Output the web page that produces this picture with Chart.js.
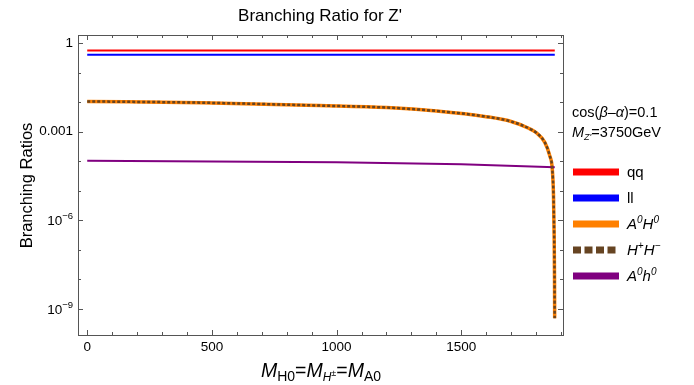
<!DOCTYPE html>
<html>
<head>
<meta charset="utf-8">
<script src="https://cdn.jsdelivr.net/npm/chart.js@4.4.1/dist/chart.umd.min.js"></script>
<style>
  body { margin: 0; background: #fff; }
  canvas { display: block; }
</style>
</head>
<body>
<canvas id="brChart" width="694" height="385"></canvas>
<script>
// Data (x = common heavy Higgs mass in GeV)
const massFlat = [0, 500, 1000, 1500, 1875];
const brQQ = [0.56, 0.56, 0.56, 0.56, 0.56];
const brLL = [0.40, 0.40, 0.40, 0.40, 0.40];
const brA0h0 = [1.02e-4, 9.8e-5, 9.1e-5, 7.9e-5, 6.2e-5];

const massCurve = [0, 460, 930, 1200, 1400, 1600, 1700, 1770, 1800, 1835, 1855, 1865, 1870, 1872.5, 1874, 1874.6];
const brA0H0 = [0.0105, 0.0095, 0.0076, 0.0065, 0.0050, 0.0032, 0.0022, 0.0013, 9.3e-4, 4.3e-4, 1.5e-4, 5.4e-5, 6.3e-6, 3.2e-7, 1e-8, 4.8e-10];
const brHpHm = [0.0105, 0.0095, 0.0076, 0.0065, 0.0050, 0.0032, 0.0022, 0.0013, 9.3e-4, 4.3e-4, 1.5e-4, 5.4e-5, 6.3e-6, 3.2e-7, 1e-8, 4.8e-10];

const xTicks = [0, 500, 1000, 1500];
const yDecades = [1e-10, 1e-9, 1e-8, 1e-7, 1e-6, 1e-5, 1e-4, 1e-3, 1e-2, 1e-1, 1];
const yPlainLabels = { '1': '1', '0.001': '0.001' };
const yPowerLabels = [[1e-6, '−6'], [1e-9, '−9']];

const toPoints = (xs, ys) => xs.map((x, i) => ({ x: x, y: ys[i] }));

const FONT = '"Liberation Sans", Arial, sans-serif';

// draws text made of runs with different fonts / offsets
function drawRuns(ctx, x, y, runs, align) {
    let total = 0;
    runs.forEach(r => { ctx.font = r.font; total += ctx.measureText(r.t).width; });
    let cx = x;
    if (align === 'center') cx = x - total / 2;
    if (align === 'right') cx = x - total;
    ctx.textAlign = 'left';
    ctx.textBaseline = 'alphabetic';
    runs.forEach(r => {
        ctx.font = r.font;
        ctx.fillText(r.t, cx, y + (r.dy || 0));
        cx += ctx.measureText(r.t).width;
    });
}

const framePlugin = {
    id: 'frame',
    afterDraw(chart) {
        const ctx = chart.ctx;
        const a = chart.chartArea;
        const xs = chart.scales.x, ys = chart.scales.y;
        ctx.save();
        ctx.strokeStyle = '#555';
        ctx.lineWidth = 1;
        ctx.strokeRect(a.left + 0.5, a.top + 0.5, a.right - a.left, a.bottom - a.top);

        // x ticks every 100, inward on bottom and top
        ctx.beginPath();
        for (let v = 0; v <= 1900; v += 100) {
            const px = Math.round(xs.getPixelForValue(v)) + 0.5;
            const len = v % 500 === 0 ? 5 : 3;
            ctx.moveTo(px, a.bottom); ctx.lineTo(px, a.bottom - len);
            ctx.moveTo(px, a.top); ctx.lineTo(px, a.top + len);
        }
        // y ticks every decade, inward on left and right
        yDecades.forEach((v, i) => {
            const py = Math.round(ys.getPixelForValue(v)) + 0.5;
            if (py < a.top || py > a.bottom) return;
            const len = (i - 1) % 3 === 0 ? 5 : 3;
            ctx.moveTo(a.left, py); ctx.lineTo(a.left + len, py);
            ctx.moveTo(a.right, py); ctx.lineTo(a.right - len, py);
        });
        ctx.stroke();

        ctx.fillStyle = '#000';
        // power-of-ten tick labels
        yPowerLabels.forEach(([v, exp]) => {
            const py = ys.getPixelForValue(v);
            drawRuns(ctx, 73, py + 5, [
                { t: '10', font: '13.5px ' + FONT },
                { t: exp, font: '9.5px ' + FONT, dy: -6 }
            ], 'right');
        });

        // title
        drawRuns(ctx, 320, 21, [{ t: "Branching Ratio for Z'", font: '17px ' + FONT }], 'center');

        // y axis title
        ctx.save();
        ctx.translate(32, 185.5);
        ctx.rotate(-Math.PI / 2);
        drawRuns(ctx, 0, 0, [{ t: 'Branching Ratios', font: '16.5px ' + FONT }], 'center');
        ctx.restore();

        // x axis title
        const big = 'italic 19.5px ' + FONT, sub = '14px ' + FONT, isub = 'italic 12px ' + FONT, eq = '19.5px ' + FONT;
        drawRuns(ctx, 321, 377, [
            { t: 'M', font: big }, { t: 'H0', font: sub, dy: 4 },
            { t: '=', font: eq },
            { t: 'M', font: big }, { t: 'H', font: isub, dy: 4 }, { t: '±', font: '9px ' + FONT, dy: -1 },
            { t: '=', font: eq },
            { t: 'M', font: big }, { t: 'A0', font: sub, dy: 4 }
        ], 'center');

        // side annotation
        const r14 = '14.5px ' + FONT, i14 = 'italic 14.5px ' + FONT;
        drawRuns(ctx, 572, 117, [
            { t: 'cos(', font: r14 }, { t: 'β', font: i14 }, { t: '–', font: r14 },
            { t: 'α', font: i14 }, { t: ')=0.1', font: r14 }
        ]);
        drawRuns(ctx, 572, 137, [
            { t: 'M', font: i14 }, { t: "Z'", font: 'italic 9px ' + FONT, dy: 3 }, { t: '=3750GeV', font: r14 }
        ]);

        // legend
        const items = chart.data.datasets.slice().sort((p, q) => p.legendRank - q.legendRank);
        items.forEach((ds, i) => {
            const y = 172 + i * 26;
            ctx.beginPath();
            ctx.lineWidth = 7;
            ctx.strokeStyle = ds.borderColor;
            ctx.setLineDash(ds.borderDash && ds.borderDash.length ? [8, 3.5] : []);
            ctx.moveTo(573, y); ctx.lineTo(619, y);
            ctx.stroke();
            ctx.setLineDash([]);
            ctx.fillStyle = '#000';
            drawRuns(ctx, 627, y + 5, ds.legendRuns);
        });
        ctx.restore();
    }
};

const i15 = 'italic 15px ' + FONT, sup = 'italic 10px ' + FONT, r15 = '15px ' + FONT;

new Chart(document.getElementById('brChart'), {
    type: 'line',
    data: {
        datasets: [
            {
                label: 'qq', data: toPoints(massFlat, brQQ), borderColor: '#ff0000', borderWidth: 2,
                legendRank: 0, legendRuns: [{ t: 'qq', font: r15 }], order: 3
            },
            {
                label: 'll', data: toPoints(massFlat, brLL), borderColor: '#0000ff', borderWidth: 2,
                legendRank: 1, legendRuns: [{ t: 'll', font: r15 }], order: 4
            },
            {
                label: 'A0H0', data: toPoints(massCurve, brA0H0), borderColor: '#ff8000', borderWidth: 3.5,
                cubicInterpolationMode: 'monotone',
                legendRank: 2, legendRuns: [{ t: 'A', font: i15 }, { t: '0', font: sup, dy: -6 }, { t: 'H', font: i15 }, { t: '0', font: sup, dy: -6 }],
                order: 2
            },
            {
                label: 'H+H-', data: toPoints(massCurve, brHpHm), borderColor: '#664422', borderWidth: 2.5,
                borderDash: [3, 2], cubicInterpolationMode: 'monotone',
                legendRank: 3, legendRuns: [{ t: 'H', font: i15 }, { t: '+', font: sup, dy: -6 }, { t: 'H', font: i15 }, { t: '−', font: sup, dy: -6 }],
                order: 0
            },
            {
                label: 'A0h0', data: toPoints(massFlat, brA0h0), borderColor: '#800080', borderWidth: 2,
                legendRank: 4, legendRuns: [{ t: 'A', font: i15 }, { t: '0', font: sup, dy: -6 }, { t: 'h', font: i15 }, { t: '0', font: sup, dy: -6 }],
                order: 1
            }
        ]
    },
    options: {
        responsive: false,
        animation: false,
        devicePixelRatio: 1,
        elements: { point: { radius: 0 }, line: { tension: 0 } },
        layout: { padding: { top: 35, right: 131, left: 0, bottom: 0 } },
        plugins: { legend: { display: false }, title: { display: false }, tooltip: { enabled: false } },
        scales: {
            x: {
                type: 'linear', min: -37, max: 1908,
                grid: { display: false, drawTicks: false }, border: { display: false },
                afterBuildTicks: s => { s.ticks = xTicks.map(v => ({ value: v })); },
                afterFit: s => { s.height = 50; },
                ticks: {
                    color: '#000', padding: 4, maxRotation: 0, font: { family: FONT, size: 13.5 },
                    callback: v => String(v)
                }
            },
            y: {
                type: 'logarithmic', min: 1.3e-10, max: 1.86,
                grid: { display: false, drawTicks: false }, border: { display: false },
                afterBuildTicks: s => { s.ticks = yDecades.map(v => ({ value: v })); },
                afterFit: s => { s.width = 78; },
                ticks: {
                    color: '#000', padding: 5, autoSkip: false, font: { family: FONT, size: 13.5 },
                    callback: v => yPlainLabels[String(v)] || ''
                }
            }
        }
    },
    plugins: [framePlugin]
});
</script>
</body>
</html>
